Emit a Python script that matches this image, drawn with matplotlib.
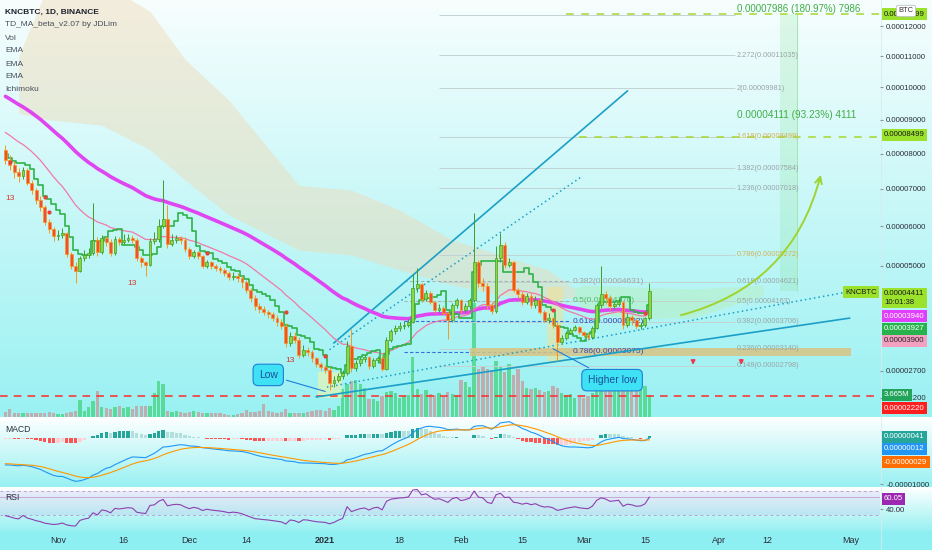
import numpy as np
import pandas as pd
import matplotlib
matplotlib.use("Agg")
import matplotlib.pyplot as plt
import matplotlib.dates as mdates
from matplotlib.ticker import NullLocator

plt.rcParams["font.family"] = ["Liberation Sans", "DejaVu Sans"]

W, H = 932, 550

# ---------------------------------------------------------------- data
START = "2020-10-20"
OPEN_FIRST_E5 = 8.11

CLOSE_E5 = [
    7.81, 7.67, 7.48, 7.36, 7.53, 7.17, 6.97, 6.70, 6.51, 6.12, 5.93, 5.75,
    5.77, 5.82, 5.29, 5.00, 4.88, 5.19, 5.27, 5.32, 5.65, 5.34, 5.70, 5.60,
    5.32, 5.67, 5.60, 5.65, 5.70, 5.65, 5.19, 5.09, 5.02, 5.62, 5.67, 6.01,
    6.20, 5.55, 5.65, 5.70, 5.65, 5.42, 5.24, 5.34, 5.24, 5.00, 5.09, 5.00,
    4.95, 4.90, 4.83, 4.73, 4.76, 4.71, 4.61, 4.43, 4.25, 4.06, 3.99, 3.93,
    3.88, 3.79, 3.71, 3.62, 3.26, 3.41, 3.32, 3.01, 3.12, 3.08, 2.95, 2.83,
    2.77, 2.72, 2.47, 2.52, 2.60, 2.66, 3.20, 2.75, 2.85, 2.93, 2.97, 2.79,
    2.91, 2.95, 2.74, 3.32, 3.51, 3.57, 3.62, 3.64, 3.71, 4.47, 4.56, 4.22,
    4.36, 4.15, 3.97, 4.02, 3.90, 3.75, 4.08, 4.20, 3.97, 4.06, 4.20, 5.09,
    4.59, 4.52, 4.08, 3.95, 5.19, 5.52, 5.02, 5.09, 4.43, 4.34, 4.15, 4.29,
    4.08, 4.20, 3.93, 3.75, 3.79, 3.64, 3.28, 3.36, 3.47, 3.53, 3.60, 3.49,
    3.43, 3.39, 3.57, 4.08, 4.34, 4.25, 4.06, 4.10, 4.15, 3.64, 3.81, 3.75,
    3.62, 3.64, 3.79, 4.411,
]
HIGH_E5 = [
    8.25, 7.95, 7.80, 7.60, 7.62, 7.58, 7.25, 7.02, 6.80, 6.55, 6.20, 5.98,
    5.90, 5.95, 5.85, 5.35, 5.10, 5.25, 5.40, 5.45, 6.62, 5.72, 5.78, 5.75,
    5.68, 5.75, 5.72, 5.80, 5.80, 5.78, 5.70, 5.25, 5.12, 5.70, 5.85, 6.20,
    7.25, 6.55, 5.80, 5.78, 5.75, 5.72, 5.48, 5.40, 5.38, 5.28, 5.15, 5.12,
    5.05, 5.00, 4.95, 4.88, 4.85, 4.82, 4.78, 4.65, 4.48, 4.30, 4.12, 4.05,
    3.98, 3.92, 3.85, 3.78, 3.68, 3.48, 3.50, 3.38, 3.22, 3.18, 3.12, 2.98,
    2.88, 2.82, 2.78, 2.60, 2.65, 2.72, 3.30, 3.55, 2.92, 2.98, 3.02, 3.00,
    2.96, 3.00, 3.02, 3.38, 3.56, 3.65, 3.70, 3.72, 3.78, 4.80, 4.95, 4.60,
    4.42, 4.40, 4.18, 4.10, 4.05, 3.95, 4.12, 4.25, 4.22, 4.12, 4.25, 6.35,
    5.15, 4.70, 4.58, 4.15, 5.50, 5.82, 5.60, 5.20, 5.12, 4.48, 4.40, 4.35,
    4.35, 4.28, 4.25, 3.98, 3.90, 3.82, 3.70, 3.42, 3.52, 3.58, 3.65, 3.62,
    3.52, 3.48, 3.62, 4.12, 5.00, 4.40, 4.30, 4.15, 4.25, 4.18, 3.90, 3.85,
    3.80, 3.70, 3.82, 4.60,
]
LOW_E5 = [
    7.70, 7.52, 7.30, 7.20, 7.28, 7.10, 6.85, 6.60, 6.40, 6.02, 5.82, 5.62,
    5.65, 5.70, 5.22, 4.92, 4.60, 4.85, 5.12, 5.20, 5.28, 5.25, 5.30, 5.50,
    5.25, 5.28, 5.52, 5.55, 5.60, 5.58, 5.12, 4.98, 4.75, 5.00, 5.55, 5.60,
    5.95, 5.45, 5.50, 5.58, 5.55, 5.35, 5.18, 5.20, 5.18, 4.95, 4.95, 4.93,
    4.88, 4.83, 4.75, 4.65, 4.66, 4.62, 4.48, 4.35, 4.15, 3.98, 3.90, 3.85,
    3.80, 3.72, 3.62, 3.55, 3.18, 3.20, 3.25, 2.95, 2.98, 3.00, 2.88, 2.78,
    2.72, 2.65, 2.33, 2.40, 2.48, 2.55, 2.62, 2.68, 2.70, 2.80, 2.88, 2.74,
    2.75, 2.86, 2.70, 2.72, 3.28, 3.45, 3.52, 3.55, 3.60, 3.68, 4.38, 4.15,
    4.18, 4.10, 3.90, 3.92, 3.85, 3.35, 3.70, 4.02, 3.90, 3.92, 4.00, 4.15,
    4.50, 4.40, 4.00, 3.88, 3.90, 5.10, 4.95, 4.98, 4.38, 4.25, 4.08, 4.10,
    4.02, 4.02, 3.88, 3.70, 3.68, 3.58, 2.90, 3.25, 3.32, 3.45, 3.52, 3.45,
    3.38, 3.32, 3.35, 3.55, 4.02, 4.10, 3.98, 4.00, 4.05, 3.55, 3.60, 3.65,
    3.55, 3.56, 3.60, 3.75,
]
VOLUME_M = [
    0.9, 1.3, 0.7, 0.6, 0.6, 0.6, 0.6, 0.6, 0.6, 0.7, 0.8, 0.6,
    0.5, 0.5, 0.6, 0.9, 1.0, 2.8, 1.0, 1.6, 2.6, 4.4, 1.6, 1.5,
    1.4, 1.6, 1.8, 1.5, 1.7, 1.4, 1.8, 1.8, 1.9, 1.8, 4.0, 6.0,
    5.5, 1.0, 0.9, 1.0, 0.8, 0.7, 0.9, 1.0, 0.8, 0.6, 0.7, 0.6,
    0.7, 0.6, 0.5, 0.4, 0.4, 0.5, 0.6, 1.2, 0.9, 0.8, 1.0, 2.2,
    1.0, 0.8, 0.7, 0.9, 1.3, 0.7, 0.6, 0.6, 0.7, 0.8, 1.0, 1.1,
    1.2, 1.0, 1.5, 1.2, 1.8, 4.6, 5.5, 6.0, 6.2, 5.5, 4.8, 3.0,
    3.0, 2.7, 3.5, 4.2, 4.3, 4.0, 3.2, 3.5, 3.6, 10.0, 4.7, 3.8,
    4.5, 3.8, 3.6, 4.0, 3.4, 4.2, 3.8, 3.6, 6.2, 5.8, 5.0, 19.0,
    8.0, 8.3, 8.0, 7.8, 9.3, 8.5, 7.5, 8.8, 7.0, 8.0, 6.0, 4.9,
    4.6, 4.9, 4.5, 4.2, 4.4, 5.2, 4.8, 4.0, 3.6, 3.8, 3.2, 3.4,
    3.2, 3.5, 4.0, 5.7, 5.5, 4.6, 4.9, 5.4, 5.8, 6.2, 5.0, 4.6,
    4.4, 4.8, 5.2, 3.665,
]

# indicator state just before the first candle
EMA21_SEED_E5 = 8.70
EMA50_SEED_E5 = 9.80
EMA12_SEED_E5, EMA26_SEED_E5, SIGNAL_SEED_E5 = 8.30, 8.89, -0.55
RSI_GAIN_SEED_E5, RSI_LOSS_SEED_E5 = 0.05, 0.10

# ichimoku cloud outline
BEAR_CLOUD_DATES = ["2020-10-23", "2020-10-30", "2020-11-11", "2020-11-22", "2020-11-30",
                    "2020-12-10", "2020-12-26", "2021-01-07", "2021-01-18", "2021-01-30",
                    "2021-02-10", "2021-02-21", "2021-02-27"]
BEAR_CLOUD_TOP_E5 = [11.0, 13.5, 13.5, 12.5, 10.9, 9.6, 7.1, 6.97, 6.43, 5.65, 5.27, 4.90, 4.45]
BEAR_CLOUD_BOT_E5 = [9.2, 9.0, 8.84, 8.11, 7.25, 6.30, 5.39, 5.27, 4.90, 4.54, 4.31, 4.20, 4.25]
BULL_CLOUD_DATES = ["2021-02-27", "2021-03-01", "2021-03-11", "2021-03-26", "2021-04-11"]
BULL_CLOUD_TOP_E5 = [4.45, 4.54, 4.50, 4.45, 4.54]
BULL_CLOUD_BOT_E5 = [4.25, 3.95, 3.78, 3.80, 4.30]

# fibonacci extension (right) and retracement (left)
FIB_EXT_LEVELS = ["2.618", "2.272", "2", "1.618", "1.382", "1.236", "0.786", "0.618", "0.5",
                  "0.382", "0.236", "0.148"]
FIB_EXT_E5 = [12.367, 11.035, 9.981, 8.499, 7.584, 7.018, 5.272, 4.621, 4.163, 3.706, 3.140, 2.798]
FIB_RET_LEVELS = ["0.382", "0.5", "0.618", "0.786"]
FIB_RET_E5 = [4.631, 4.176, 3.722, 3.075]

TARGET_HIGH_E5 = 12.397
TARGET_MID_E5 = 8.499
SUPPORT_E5 = 2.22
LAST_E5 = 4.411

PRICE_TICKS_E5 = [12, 11, 10, 9, 8, 7, 6, 5, 2.7, 2.2]
DATE_TICKS = ["2020-11-01", "2020-11-16", "2020-12-01", "2020-12-14", "2021-01-01",
              "2021-01-18", "2021-02-01", "2021-02-15", "2021-03-01", "2021-03-15",
              "2021-04-01", "2021-04-12", "2021-05-01"]
DATE_LABELS = ["Nov", "16", "Dec", "14", "2021", "18", "Feb", "15", "Mar", "15", "Apr", "12", "May"]

TD13_DATES = ["2020-10-21", "2020-11-18", "2020-12-24"]
TD13_E5 = [6.75, 4.59, 2.91]
RED_DOT_DATES = ["2020-10-21", "2020-10-29", "2020-10-30", "2020-12-05", "2020-12-23",
                 "2021-01-01", "2021-02-22", "2021-03-15"]
RED_DOT_E5 = [7.75, 6.78, 6.38, 5.32, 3.93, 2.99, 3.97, 3.90]

LEGEND = ["TD_MA_beta_v2.07 by JDLim", "Vol", "EMA", "EMA", "EMA", "Ichimoku"]

E5 = 1e-5


def day(s, frac=0.0):
    return mdates.date2num(pd.Timestamp(s)) + frac


def ema(values, period, seed):
    alpha = 2.0 / (period + 1)
    out = np.empty(len(values))
    prev = seed
    for i, v in enumerate(values):
        prev = prev + alpha * (v - prev)
        out[i] = prev
    return out


def rsi(values, prev_close, gain, loss, period=14):
    diffs = np.diff(np.concatenate([[prev_close], values]))
    out = np.empty(len(values))
    for i, d in enumerate(diffs):
        gain = (gain * (period - 1) + max(d, 0.0)) / period
        loss = (loss * (period - 1) + max(-d, 0.0)) / period
        out[i] = 100 - 100 / (1 + gain / loss)
    return out


close = np.array(CLOSE_E5) * E5
high = np.array(HIGH_E5) * E5
low = np.array(LOW_E5) * E5
opn = np.concatenate([[OPEN_FIRST_E5 * E5], close[:-1]])
vol = np.array(VOLUME_M)
x = mdates.date2num(pd.date_range(START, periods=len(close), freq="D"))
up = close >= opn

ema21 = ema(close, 21, EMA21_SEED_E5 * E5)
ema50 = ema(close, 50, EMA50_SEED_E5 * E5)
step = (pd.Series(high).rolling(7, min_periods=1).max()
        + pd.Series(low).rolling(7, min_periods=1).min()).values / 2
macd = ema(close, 12, EMA12_SEED_E5 * E5) - ema(close, 26, EMA26_SEED_E5 * E5)
signal = ema(macd, 9, SIGNAL_SEED_E5 * E5)
hist = macd - signal
rsi_vals = rsi(np.array(CLOSE_E5), OPEN_FIRST_E5, RSI_GAIN_SEED_E5, RSI_LOSS_SEED_E5)

# ---------------------------------------------------------------- figure
fig = plt.figure(figsize=(W / 100, H / 100), dpi=100)


def frac_rect(x0, y0, x1, y1):
    return [x0 / W, 1 - y1 / H, (x1 - x0) / W, (y1 - y0) / H]


# background gradient, one ramp per pane, white gaps between panes
rows = np.zeros((H, 1, 3))
top_c = np.array([0.97, 0.995, 0.995])
bot_c = np.array([0.60, 0.945, 0.95])
for a, b in [(0, 417), (421, 487), (490, 531)]:
    t = np.linspace(0, 1, b - a)[:, None]
    rows[a:b, 0] = top_c * (1 - t) + bot_c * t
rows[417:421, 0] = [0.99, 1, 1]
rows[487:490, 0] = [0.99, 1, 1]
rows[531:, 0] = [0.56, 0.94, 0.95]
ax_bg = fig.add_axes([0, 0, 1, 1], zorder=-10)
ax_bg.imshow(rows, aspect="auto", extent=[0, 1, 0, 1], interpolation="bilinear")
ax_bg.axis("off")

axv = fig.add_axes(frac_rect(0, 0, 880, 417), zorder=1)
ax = fig.add_axes(frac_rect(0, 0, 880, 420), zorder=2)
ax_macd = fig.add_axes(frac_rect(0, 421, 880, 487), zorder=2)
ax_rsi = fig.add_axes(frac_rect(0, 488, 880, 530), zorder=2)

XLIM = (day("2020-10-18", 0.76), day("2021-05-07", 0.67))
for a in (axv, ax, ax_macd, ax_rsi):
    a.set_facecolor("none")
    a.set_xlim(*XLIM)
    for s in a.spines.values():
        s.set_visible(False)
    a.tick_params(axis="x", length=0, labelbottom=False)
    a.yaxis.tick_right()
    a.tick_params(axis="y", length=2.5, color="#8a9a9a", labelsize=5.6,
                  labelcolor="#2a2e39", pad=2)

# volume
axv.bar(x, vol, width=0.75, color=np.where(up, "#4fd68a", "#c4a3a5"), alpha=0.85, linewidth=0)
axv.set_ylim(0, 69.5)
axv.set_yticks([])

# price pane on a power scale like the chart's
ax.set_yscale("function", functions=(lambda v: np.power(np.maximum(v, 1e-12) / E5, 0.63),
                                     lambda v: np.power(np.maximum(v, 0), 1 / 0.63) * E5))
ax.set_ylim(1.81 * E5, 12.89 * E5)
ax.set_yticks([t * E5 for t in PRICE_TICKS_E5])
ax.set_yticklabels([f"{t * E5:.8f}" for t in PRICE_TICKS_E5])
ax.yaxis.set_minor_locator(NullLocator())

ax.fill_between([day(d) for d in BEAR_CLOUD_DATES], np.array(BEAR_CLOUD_TOP_E5) * E5,
                np.array(BEAR_CLOUD_BOT_E5) * E5, color="#efd9b4", alpha=0.45, lw=0, zorder=1)
ax.fill_between([day(d) for d in BULL_CLOUD_DATES], np.array(BULL_CLOUD_TOP_E5) * E5,
                np.array(BULL_CLOUD_BOT_E5) * E5, color="#b9efb9", alpha=0.45, lw=0, zorder=1)

# highlight boxes around the two lows
ax.fill_between([day("2020-12-30", 0.4), day("2021-01-04", 0.8)], 2.20 * E5, 2.68 * E5,
                color="#fff59d", alpha=0.5, lw=0, zorder=1)
ax.fill_between([day("2021-02-20", 0.6), day("2021-02-24", 0.3)], 2.87 * E5, 4.50 * E5,
                color="#ffe082", alpha=0.45, lw=0, zorder=1)

# fib extension
fib_x0, fib_x1 = day("2021-01-27"), day("2021-04-04", 0.5)
ax.hlines([v * E5 for v in FIB_EXT_E5], fib_x0, fib_x1, color="#c3d3d3", lw=0.7, zorder=1)
for lvl, v in zip(FIB_EXT_LEVELS, FIB_EXT_E5):
    if lvl == "2.618":
        continue
    col = "#d2b35a" if lvl in ("1.618", "0.786") else "#9aa5a5"
    ax.text(day("2021-04-05"), v * E5, f"{lvl}({v * E5:.8f})", fontsize=5.3, color=col,
            va="center", ha="left", zorder=3)

# fib retracement
ret_cols = ["#a0a0a0", "#58b868", "#3048c0", "#3048c0"]
ret_line = ["#a8b4b4", "#a8b4b4", "#2f6fe0", "#2f6fe0"]
for lvl, v, c, lc in zip(FIB_RET_LEVELS, FIB_RET_E5, ret_cols, ret_line):
    ax.hlines(v * E5, day("2021-01-19"), day("2021-02-26"), color=lc, lw=0.8,
              linestyles=(0, (3, 2)), zorder=2)
    ax.text(day("2021-02-26", 0.6), v * E5, f"{lvl}({v * E5:.8f})", fontsize=6, color=c,
            va="center", ha="left", zorder=3)

# support band and horizontal levels
ax.fill_between([day("2021-02-03"), day("2021-05-01")], 2.99 * E5, 3.16 * E5,
                color="#d8c585", alpha=0.85, lw=0, zorder=2)
ax.axhline(SUPPORT_E5 * E5, color="#ff2a2a", lw=1.1, ls=(0, (5, 4)), zorder=2)
ax.hlines(TARGET_HIGH_E5 * E5, day("2021-02-25"), XLIM[1], color="#a6d82c", lw=1.1,
          linestyles=(0, (5, 5)), zorder=2)
ax.hlines(TARGET_MID_E5 * E5, day("2021-02-28"), XLIM[1], color="#a6d82c", lw=1.1,
          linestyles=(0, (5, 5)), zorder=2)

# price range projection
ax.fill_between([day("2021-04-14", 0.8), day("2021-04-18", 0.7)], LAST_E5 * E5,
                TARGET_HIGH_E5 * E5, color="#7fe08a", alpha=0.2, lw=0, zorder=1)
ax.vlines(day("2021-04-18", 0.7), LAST_E5 * E5, TARGET_HIGH_E5 * E5, color="#a5e6b0", lw=0.7)
ax.text(day("2021-04-05"), 12.57 * E5, "0.00007986 (180.97%) 7986", fontsize=7,
        color="#3fae48", va="center", ha="left", zorder=4)
ax.text(day("2021-04-05"), 9.15 * E5, "0.00004111 (93.23%) 4111", fontsize=7.2,
        color="#3fae48", va="center", ha="left", zorder=4)

# trend lines
tl = "#1aa0c8"
ax.plot([day("2021-01-03"), day("2021-03-11")], [3.26 * E5, 9.89 * E5], color=tl, lw=1.2, zorder=3)
ax.plot([day("2021-01-02"), day("2021-02-28", 0.4)], [3.12 * E5, 7.33 * E5], color=tl, lw=1.1,
        ls=(0, (1, 2)), zorder=3)
ax.plot([day("2020-12-30"), day("2021-04-30", 0.7)], [2.21 * E5, 3.79 * E5], color=tl, lw=1.2, zorder=3)
ax.plot([day("2021-01-01", 0.4), day("2021-05-01", 0.8)], [2.39 * E5, 4.41 * E5], color=tl, lw=1.1,
        ls=(0, (1, 2)), zorder=3)

# moving averages
ax.plot(x, ema50, color="#df45f0", lw=2.6, zorder=4, solid_capstyle="round")
ax.plot(x, ema21, color="#f07aa8", lw=0.9, zorder=4)
ax.plot(x, step, color="#2fb34a", lw=1.2, drawstyle="steps-mid", zorder=4)

# candles
body_lo = np.minimum(opn, close)
body_hi = np.maximum(opn, close)
edge = np.where(up, "#3f9e2a", "#f59a1b")
ax.vlines(x, low, high, colors=edge, lw=0.7, zorder=5)
ax.bar(x, body_hi - body_lo, bottom=body_lo, width=0.65, color=np.where(up, "#8cd640", "#f2502c"),
       edgecolor=edge, linewidth=0.5, zorder=6)

ax.scatter([day(d) for d in RED_DOT_DATES], np.array(RED_DOT_E5) * E5, s=9, color="#e8403a",
           zorder=7, linewidths=0)
for d, v in zip(TD13_DATES, TD13_E5):
    ax.text(day(d), v * E5, "13", fontsize=6, color="#d8342c", ha="center", va="center", zorder=7)

# callouts
box = dict(boxstyle="round,pad=0.55,rounding_size=0.5", fc="#3fe2f4", ec="#1e7fd8", lw=0.8)
ax.annotate("Low", xy=(day("2021-01-01"), 2.31 * E5), xytext=(day("2020-12-19"), 2.62 * E5),
            fontsize=7.5, color="#1c4f9a", ha="center", va="center", bbox=box, zorder=8,
            arrowprops=dict(arrowstyle="-", color="#1e7fd8", lw=0.8, shrinkB=0))
ax.annotate("Higher low", xy=(day("2021-02-22"), 3.14 * E5), xytext=(day("2021-03-07", 0.5), 2.52 * E5),
            fontsize=7.5, color="#1c4f9a", ha="center", va="center", bbox=box, zorder=8,
            arrowprops=dict(arrowstyle="-", color="#1e7fd8", lw=0.8, shrinkB=0))

ax.annotate("", xy=(day("2021-04-24", 0.3), 7.47 * E5), xytext=(day("2021-03-22", 0.6), 3.84 * E5),
            arrowprops=dict(arrowstyle="->", color="#9fd42e", lw=1.4, mutation_scale=12,
                            connectionstyle="arc3,rad=0.3"), zorder=8)
for d in ["2021-03-26", "2021-04-06"]:
    ax.annotate("", xy=(day(d), 2.76 * E5), xytext=(day(d), 2.96 * E5),
                arrowprops=dict(arrowstyle="-|>", color="#f23645", lw=1.1, mutation_scale=6), zorder=8)

# ---------------------------------------------------------------- MACD
prev = np.concatenate([[hist[0]], hist[:-1]])
hcol = np.where(hist >= 0, np.where(hist >= prev, "#26a69a", "#b2dfdb"),
                np.where(hist < prev, "#ff5252", "#ffcdd2"))
ax_macd.bar(x, hist, width=0.75, color=hcol, linewidth=0)
ax_macd.plot(x, macd, color="#2196f3", lw=0.8)
ax_macd.plot(x, signal, color="#ff9800", lw=0.8)
ax_macd.set_ylim(-1.065 * E5, 0.37 * E5)
ax_macd.set_yticks([-1 * E5])
ax_macd.set_yticklabels(["-0.00001000"])

# ---------------------------------------------------------------- RSI
ax_rsi.axhspan(30, 70, color="#9c7fd6", alpha=0.13, lw=0)
ax_rsi.axhline(70, color="#b8a4d8", lw=0.7, ls=(0, (3, 3)))
ax_rsi.axhline(30, color="#b8a4d8", lw=0.7, ls=(0, (3, 3)))
ax_rsi.axhline(60.05, color="#c9a7dc", lw=0.7)
ax_rsi.plot(x, rsi_vals, color="#8e3fb0", lw=0.8)
ax_rsi.set_ylim(5, 75)
ax_rsi.set_yticks([40])
ax_rsi.set_yticklabels(["40.00"])
ax_rsi.set_xticks([day(d) for d in DATE_TICKS])
ax_rsi.set_xticklabels(DATE_LABELS)
ax_rsi.tick_params(axis="x", labelbottom=True, labelsize=6.5, labelcolor="#2a2e39", pad=4)
for lab in ax_rsi.get_xticklabels():
    if lab.get_text() == "2021":
        lab.set_fontweight("bold")

# ---------------------------------------------------------------- text overlays
fig.text(5 / W, 1 - 12 / H, "KNCBTC, 1D, BINANCE", fontsize=6, fontweight="bold",
         color="#1e222d", va="center")
for i, s in enumerate(LEGEND):
    fig.text(5 / W, 1 - (25 + 13 * i) / H, s, fontsize=6, color="#4a4f5a", va="center")
fig.text(5 / W, 1 - 430 / H, "MACD", fontsize=6.2, color="#2a2e39", va="center")
fig.text(5 / W, 1 - 497 / H, "RSI", fontsize=6.2, color="#2a2e39", va="center")

fig.add_artist(plt.Line2D([881 / W, 881 / W], [0, 1], color="#d4ecee", lw=0.6))


def badge(y_px, text, bg, fg="white", x_px=884, ha="left"):
    fig.text(x_px / W, 1 - y_px / H, text, fontsize=5.6, color=fg, va="center", ha=ha,
             linespacing=1.25, bbox=dict(boxstyle="square,pad=0.3", fc=bg, ec="none"), zorder=20)


lime = "#9be22d"
badge(14, "0.00012399", lime, "#1a1a1a")
badge(135, "0.00008499", lime, "#1a1a1a")
badge(298, "0.00004411\n10:01:38", lime, "#1a1a1a")
badge(292, "KNCBTC", lime, "#1a1a1a", x_px=877, ha="right")
badge(316, "0.00003940", "#e040fb")
badge(329, "0.00003927", "#27b34b")
badge(341, "0.00003900", "#f4a0c0", "#222222")
badge(395, "3.665M", "#22a45a")
badge(408, "0.00002220", "#ff1e1e")
badge(437, "0.00000041", "#26a69a")
badge(449, "0.00000012", "#2196f3")
badge(462, "-0.00000029", "#ff6d00")
badge(499, "60.05", "#9c27b0")
fig.text(906 / W, 1 - 11 / H, "BTC", fontsize=5.4, color="#333333", va="center", ha="center",
         bbox=dict(boxstyle="round,pad=0.3", fc="white", ec="#b0b0b0", lw=0.5), zorder=21)

fig.savefig("out.png", dpi=100)
